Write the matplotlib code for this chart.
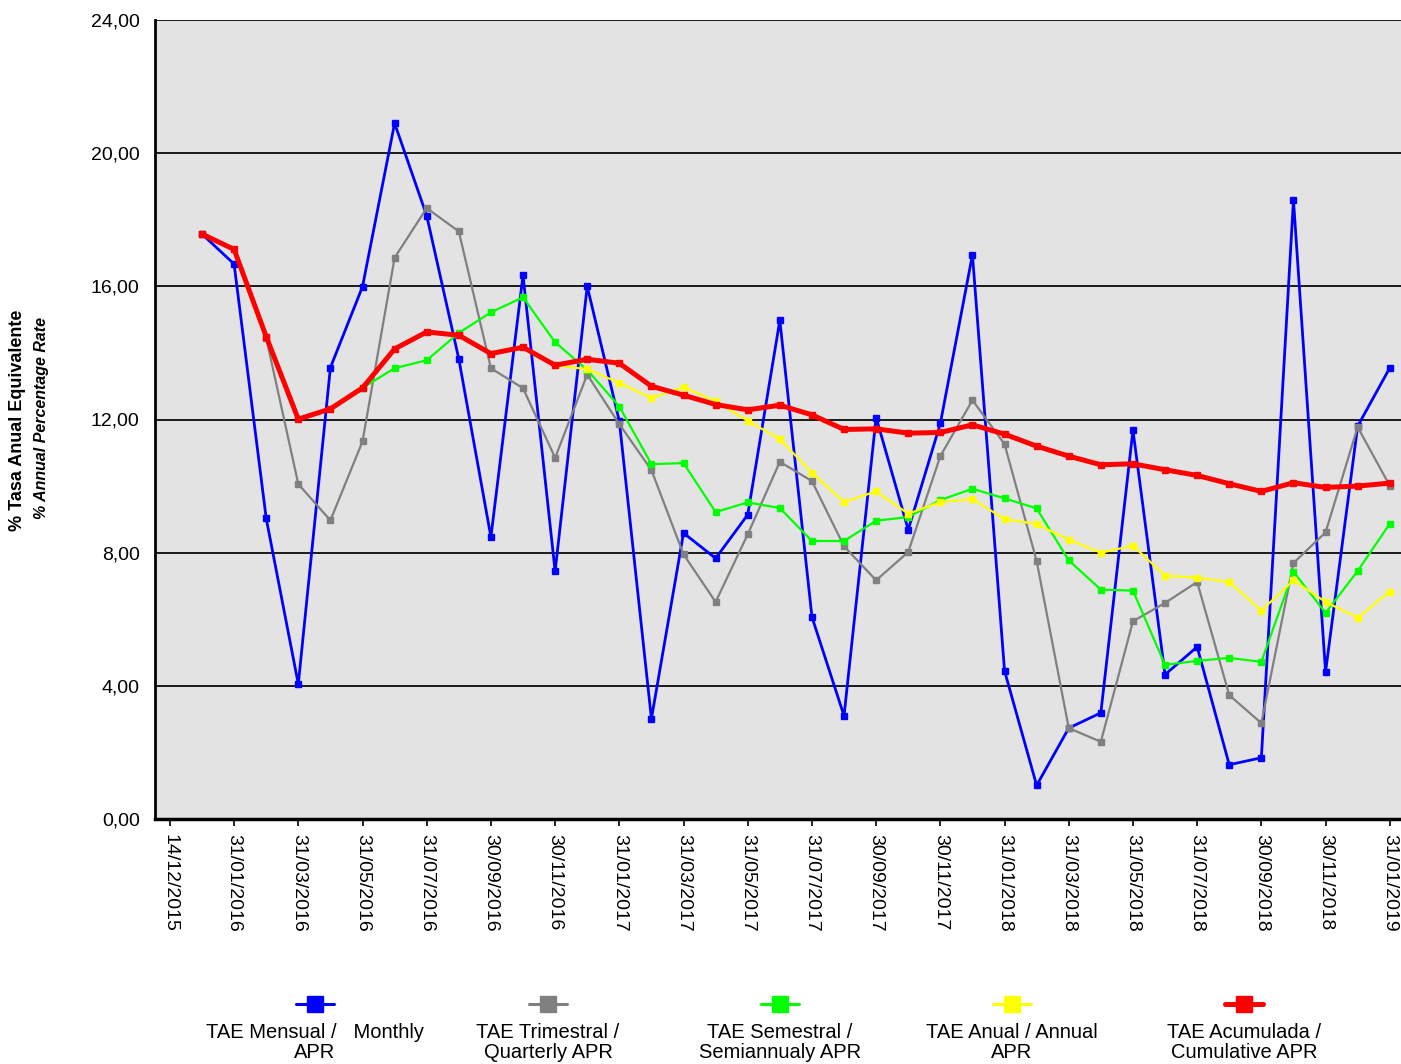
import numpy as np
import matplotlib
matplotlib.use("Agg")
import matplotlib.pyplot as plt
from matplotlib.lines import Line2D
from matplotlib.ticker import FuncFormatter

plt.rcParams['font.family'] = ['Liberation Sans', 'DejaVu Sans']

# ---- data ----
dates = ["31/12/2015", "31/01/2016", "29/02/2016", "31/03/2016", "30/04/2016", "31/05/2016",
         "30/06/2016", "31/07/2016", "31/08/2016", "30/09/2016", "31/10/2016", "30/11/2016",
         "31/12/2016", "31/01/2017", "28/02/2017", "31/03/2017", "30/04/2017", "31/05/2017",
         "30/06/2017", "31/07/2017", "31/08/2017", "30/09/2017", "31/10/2017", "30/11/2017",
         "31/12/2017", "31/01/2018", "28/02/2018", "31/03/2018", "30/04/2018", "31/05/2018",
         "30/06/2018", "31/07/2018", "31/08/2018", "30/09/2018", "31/10/2018", "30/11/2018",
         "31/12/2018", "31/01/2019"]

tick_labels = ["14/12/2015", "31/01/2016", "31/03/2016", "31/05/2016", "31/07/2016",
               "30/09/2016", "30/11/2016", "31/01/2017", "31/03/2017", "31/05/2017",
               "31/07/2017", "30/09/2017", "30/11/2017", "31/01/2018", "31/03/2018",
               "31/05/2018", "31/07/2018", "30/09/2018", "30/11/2018", "31/01/2019"]

monthly = [17.57, 16.67, 9.03, 4.05, 13.56, 15.99, 20.90, 18.12, 13.82, 8.47,
           16.33, 7.44, 16.00, 11.95, 3.01, 8.59, 7.83, 9.14, 14.98, 6.07,
           3.10, 12.06, 8.69, 11.88, 16.95, 4.45, 1.01, 2.73, 3.19, 11.68,
           4.34, 5.17, 1.63, 1.84, 18.59, 4.42, 11.80, 13.55]

quarterly = [None, None, 14.45, 10.06, 8.97, 11.34, 16.86, 18.35, 17.65, 13.54,
             12.94, 10.85, 13.35, 11.86, 10.48, 7.95, 6.52, 8.55, 10.73, 10.15,
             8.19, 7.17, 8.02, 10.90, 12.58, 11.26, 7.75, 2.73, 2.32, 5.94,
             6.49, 7.12, 3.72, 2.88, 7.69, 8.61, 11.77, 10.01]

semiannual = [None, None, None, None, None, 12.95, 13.54, 13.78, 14.60, 15.22,
              15.67, 14.32, 13.49, 12.39, 10.66, 10.69, 9.22, 9.51, 9.34, 8.35,
              8.35, 8.96, 9.07, 9.58, 9.92, 9.63, 9.33, 7.77, 6.89, 6.86,
              4.63, 4.75, 4.84, 4.72, 7.43, 6.19, 7.45, 8.87]

annual = [None, None, None, None, None, None, None, None, None, None,
          None, 13.63, 13.51, 13.10, 12.64, 12.97, 12.55, 11.96, 11.41, 10.40,
          9.52, 9.84, 9.17, 9.52, 9.61, 9.01, 8.86, 8.39, 8.00, 8.21,
          7.31, 7.25, 7.12, 6.26, 7.17, 6.52, 6.05, 6.83]

cumulative = [17.57, 17.11, 14.49, 12.01, 12.32, 12.95, 14.12, 14.63, 14.53, 13.98,
              14.17, 13.63, 13.81, 13.69, 13.00, 12.73, 12.45, 12.29, 12.43, 12.14,
              11.70, 11.72, 11.59, 11.61, 11.84, 11.56, 11.20, 10.90, 10.64, 10.67,
              10.49, 10.32, 10.07, 9.84, 10.10, 9.96, 10.00, 10.09]

series_labels = ["TAE Mensual /   Monthly\nAPR", "TAE Trimestral /\nQuarterly APR",
                 "TAE Semestral /\nSemiannualy APR", "TAE Anual / Annual\nAPR",
                 "TAE Acumulada /\nCumulative APR"]

# ---- styles ----
colors = ["#0000ff", "#808080", "#00ff00", "#ffff00", "#ff0000"]
lws = [2.0, 1.6, 1.6, 1.6, 3.6]
mss = [4.5, 4.5, 4.5, 4.5, 5.0]

def arr(v):
    return np.array([np.nan if a is None else a for a in v], dtype=float)

all_series = [monthly, quarterly, semiannual, annual, cumulative]

fig = plt.figure(figsize=(14.01, 10.64), dpi=100)
ax = fig.add_axes([155 / 1401, 1 - 819 / 1064, (1401 - 155) / 1401, (819 - 20) / 1064])
ax.set_facecolor("#e3e3e3")

x = np.arange(len(dates))
for s, c, lw, ms in zip(all_series, colors, lws, mss):
    ax.plot(x, arr(s), color=c, lw=lw, marker="s", ms=ms, mec=c, mfc=c, zorder=3,
            clip_on=False)

ax.set_ylim(0, 24)
ax.set_yticks(np.arange(0, 25, 4))
ax.yaxis.set_major_formatter(FuncFormatter(lambda v, p: f"{v:.2f}".replace(".", ",")))
ax.grid(axis="y", color="#1a1a1a", lw=1.4, zorder=1)
ax.set_axisbelow(True)

tick_pos = np.arange(-1, len(dates), 2)
ax.set_xticks(tick_pos)
ax.set_xticklabels(tick_labels, rotation=270, fontsize=14)
ax.set_xlim(-1.464, 37.35)

ax.tick_params(axis="y", length=0, pad=11, labelsize=14)
ax.tick_params(axis="x", length=5, width=1.2, pad=6, direction="out")

for sp in ["top", "right"]:
    ax.spines[sp].set_visible(False)
ax.spines["left"].set_linewidth(2.0)
ax.spines["bottom"].set_linewidth(2.5)

# y-axis labels
fig.text(18 / 1401, 1 - 420 / 1064, "% Tasa Anual Equivalente", rotation=90,
         ha="center", va="center", fontsize=13, fontweight="bold")
fig.text(42 / 1401, 1 - 418 / 1064, "% Annual Percentage Rate", rotation=90,
         ha="center", va="center", fontsize=11.5, fontweight="bold", style="italic")

# legend (handle above text)
leg_x = [315, 548, 780, 1012, 1244]
for cx, lab, c, lw in zip(leg_x, series_labels, colors, lws):
    yy = 1 - 1004 / 1064
    fig.add_artist(Line2D([(cx - 19) / 1401, (cx + 19) / 1401], [yy, yy], color=c,
                          lw=lw if lw > 2.5 else 2.2, solid_capstyle="round",
                          transform=fig.transFigure))
    fig.add_artist(Line2D([cx / 1401], [yy], color=c, marker="s", ms=12, mec=c, mfc=c,
                          transform=fig.transFigure))
    fig.text(cx / 1401, 1 - 1023 / 1064, lab, ha="center", va="top", fontsize=14.5,
             multialignment="center", linespacing=1.1)

fig.savefig("out.png", dpi=100)
